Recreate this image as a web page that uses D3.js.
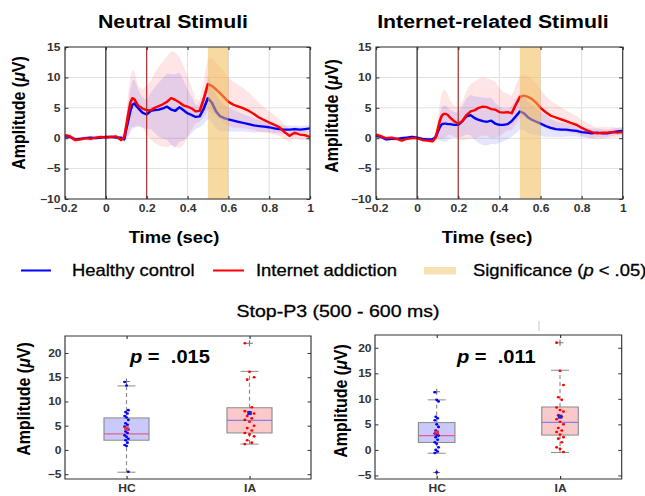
<!DOCTYPE html>
<html>
<head>
<meta charset="utf-8">
<script src="https://cdn.jsdelivr.net/npm/d3@7"></script>
<style>
  body { margin: 0; background: #fff; }
  svg { display: block; font-family: "Liberation Sans", Arial, sans-serif; }
</style>
</head>
<body>
<script>
'use strict';

// ERP time base (sec)
const T = [-0.2, -0.175, -0.15, -0.125, -0.1, -0.075, -0.05, -0.025, 0, 0.025, 0.05, 0.075,
  0.09, 0.1, 0.11, 0.12, 0.13, 0.14, 0.15, 0.16, 0.18, 0.2, 0.22, 0.24, 0.26, 0.28, 0.3, 0.32,
  0.34, 0.36, 0.38, 0.4, 0.42, 0.44, 0.46, 0.48, 0.5, 0.52, 0.54, 0.56, 0.58, 0.6, 0.625, 0.65,
  0.675, 0.7, 0.725, 0.75, 0.775, 0.8, 0.825, 0.85, 0.875, 0.9, 0.925, 0.95, 0.975, 1.0];

// neutral stimuli: grand means and band half-widths (uV)
const neuHC = [0.3, 0.2, -0.2, -0.1, 0.0, 0.1, 0.0, 0.1, 0.2, 0.2, 0.1, 0.1,
  -0.2, 1.5, 3.0, 4.5, 5.5, 5.7, 5.3, 4.9, 4.2, 3.9, 4.5, 4.6, 4.7, 4.9, 5.2, 4.7,
  4.5, 5.1, 4.6, 4.1, 3.8, 3.5, 3.6, 4.9, 6.6, 5.8, 4.4, 3.6, 3.3, 3.1, 2.9, 2.7,
  2.5, 2.3, 2.1, 2.0, 1.9, 1.8, 1.6, 1.5, 1.4, 1.4, 1.5, 1.4, 1.5, 1.6];
const neuIA = [0.5, 0.3, -0.3, -0.2, 0.0, -0.1, 0.1, 0.2, 0.1, 0.2, 0.3, -0.3,
  0.2, 2.0, 4.0, 5.8, 6.6, 6.4, 5.8, 5.3, 4.9, 4.6, 4.6, 5.0, 5.3, 5.6, 6.0, 6.6,
  6.3, 5.9, 5.4, 5.2, 4.9, 4.4, 4.5, 6.5, 8.9, 8.6, 8.0, 7.4, 6.7, 6.0, 5.5, 5.2,
  4.9, 4.5, 4.0, 3.4, 3.0, 2.6, 2.2, 1.8, 1.0, 0.4, 0.9, 0.6, 0.5, 0.2];
const neuHCsd = [0.4, 0.4, 0.3, 0.3, 0.3, 0.3, 0.3, 0.3, 0.3, 0.3, 0.3, 0.3,
  0.5, 1.5, 2.8, 3.6, 4.0, 4.0, 3.5, 3.0, 2.5, 2.4, 3.0, 3.8, 4.5, 5.0, 5.5, 5.8,
  6.0, 5.7, 5.0, 4.0, 3.0, 2.0, 1.8, 2.5, 3.5, 3.2, 2.8, 2.5, 2.2, 2.0, 1.8, 1.6,
  1.4, 1.3, 1.2, 1.0, 0.9, 0.8, 0.8, 0.7, 0.7, 0.7, 0.6, 0.6, 0.6, 0.6];
const neuIAsd = [0.4, 0.4, 0.4, 0.3, 0.3, 0.3, 0.3, 0.3, 0.3, 0.3, 0.3, 0.4,
  0.6, 2.0, 3.5, 4.3, 4.7, 4.5, 3.8, 3.2, 3.2, 4.0, 4.8, 5.8, 6.5, 7.0, 7.5, 7.7,
  7.8, 7.5, 6.5, 5.0, 3.5, 2.0, 1.8, 3.0, 4.3, 4.5, 4.4, 4.3, 4.2, 4.0, 3.8, 3.5,
  3.3, 3.0, 2.7, 2.4, 2.1, 1.8, 1.6, 1.4, 1.2, 1.0, 1.0, 0.9, 0.8, 0.7];

// internet-related stimuli
const intHC = [0.4, 0.2, -0.2, -0.1, -0.1, 0.0, 0.1, 0.2, 0.1, -0.1, -0.2, -0.2,
  0.2, 1.0, 1.8, 2.3, 2.4, 2.4, 2.3, 2.3, 2.2, 2.2, 2.8, 3.6, 3.8, 3.3, 3.0, 2.8,
  2.7, 2.9, 2.4, 2.2, 2.2, 2.3, 2.8, 3.6, 4.4, 4.1, 3.4, 3.0, 2.7, 2.4, 2.0, 1.7,
  1.5, 1.4, 1.4, 1.3, 1.2, 1.0, 0.9, 0.8, 0.9, 0.8, 0.8, 1.0, 1.1, 1.2];
const intIA = [0.6, 0.3, 0.0, 0.1, -0.1, -0.4, -0.1, 0.0, 0.0, -0.3, -0.4, -0.5,
  0.1, 1.4, 2.8, 3.7, 4.0, 4.0, 3.8, 3.4, 2.8, 2.4, 2.8, 3.8, 4.4, 4.6, 5.0, 5.2,
  5.1, 4.8, 4.7, 4.3, 4.2, 4.3, 4.1, 5.5, 6.8, 7.0, 6.8, 6.4, 5.8, 5.0, 4.3, 3.7,
  3.4, 3.1, 2.8, 2.5, 2.2, 1.7, 1.3, 1.0, 0.8, 0.9, 0.9, 1.0, 0.9, 1.0];
const intHCsd = [0.4, 0.3, 0.3, 0.3, 0.3, 0.3, 0.3, 0.3, 0.3, 0.3, 0.3, 0.3,
  0.5, 1.2, 2.2, 2.8, 3.0, 3.0, 2.7, 2.4, 2.1, 2.0, 2.5, 3.0, 3.3, 3.6, 3.8, 3.9,
  3.9, 3.8, 3.4, 3.0, 2.7, 2.5, 2.5, 2.8, 3.0, 2.8, 2.6, 2.4, 2.2, 2.0, 1.8, 1.5,
  1.3, 1.2, 1.1, 1.0, 0.9, 0.9, 0.8, 0.8, 0.7, 0.7, 0.6, 0.6, 0.6, 0.6];
const intIAsd = [0.4, 0.4, 0.3, 0.3, 0.3, 0.3, 0.3, 0.3, 0.3, 0.3, 0.3, 0.4,
  0.6, 1.5, 3.0, 3.8, 4.0, 3.8, 3.3, 2.8, 2.6, 2.6, 3.2, 4.0, 4.5, 4.7, 4.8, 4.8,
  4.7, 4.8, 4.6, 4.0, 3.4, 3.0, 2.8, 3.2, 3.5, 3.5, 3.4, 3.3, 3.2, 3.0, 2.7, 2.4,
  2.2, 2.0, 1.8, 1.6, 1.5, 1.3, 1.2, 1.1, 1.0, 1.0, 0.9, 0.9, 0.8, 0.8];

const erpXTicks = [-0.2, 0, 0.2, 0.4, 0.6, 0.8, 1];
const erpYTicks = [-10, -5, 0, 5, 10, 15];
const sigWindow = [0.5, 0.6];

// Stop-P3 box plots
const groups = ['HC', 'IA'];
const boxYTicks = [-5, 0, 5, 10, 15, 20];

const neuQ1 = [2.0, 3.5];
const neuMed = [3.3, 6.1];
const neuQ3 = [6.6, 8.7];
const neuLo = [-4.6, 1.2];
const neuHi = [13.2, 16.2];
const neuMean = [4.4, 7.6];
const neuOut = [[14.1], [22.0]];
const neuPtsHC = [14.0, 13.3, 8.2, 7.8, 7.5, 7.0, 6.7, 6.2, 5.5, 5.2, 4.8, 4.5, 4.2, 3.8,
  3.5, 3.0, 2.7, 2.3, 2.0, 1.5, 1.0, 0.8, -4.5];
const neuPtsIA = [22.0, 16.1, 15.0, 14.5, 8.8, 8.0, 7.8, 7.5, 7.0, 6.5, 6.2, 5.8, 5.0, 4.5,
  4.0, 3.5, 3.2, 2.8, 2.0, 1.5, 1.2];

const intQ1 = [1.45, 2.9];
const intMed = [2.8, 5.4];
const intQ3 = [5.35, 8.4];
const intLo = [-0.65, -0.5];
const intHi = [9.8, 15.6];
const intMean = [3.4, 6.5];
const intOut = [[11.4, -4.45], [21.0]];
const intPtsHC = [11.3, 9.8, 9.5, 6.5, 6.2, 5.8, 5.0, 4.5, 3.8, 3.5, 3.2, 3.0, 2.8, 2.5,
  2.0, 1.5, 1.2, 0.5, 0.0, -0.3, -0.6, -4.4];
const intPtsIA = [21.0, 15.5, 12.7, 10.3, 9.8, 8.3, 7.8, 7.5, 6.8, 6.5, 6.0, 5.5, 5.0, 4.3,
  3.8, 3.5, 3.0, 2.5, 2.2, 1.5, 0.5, 0.2, -0.4];

const W = 645;
const H = 496;
// the exported figure is stretched horizontally; draw in unstretched units
const sx = 1.15;

const svg = d3.select('body').append('svg').attr('width', W).attr('height', H);
const root = svg.append('g').attr('transform', 'scale(' + sx + ',1)');

function styleAxis(sel) {
  sel.select('.domain').remove();
  sel.selectAll('.tick line').attr('stroke', '#333');
  sel.selectAll('.tick text')
    .attr('font-family', '"Liberation Sans", Arial, sans-serif')
    .attr('font-size', 10.5)
    .attr('font-weight', 'bold')
    .attr('fill', '#333');
}

function ampLabel(g, bx, cy) {
  const t = g.append('text')
    .attr('transform', 'translate(' + [bx, cy] + ') rotate(-90)')
    .attr('text-anchor', 'middle')
    .attr('font-size', 16)
    .attr('font-weight', 'bold');
  t.append('tspan').text('Amplitude (');
  t.append('tspan').attr('font-style', 'italic').text('\u03bc');
  t.append('tspan').text('V)');
}

function drawErp(c) {
  const x = d3.scaleLinear().domain([-0.2, 1]).range([c.x0 / sx, c.x1 / sx]);
  const y = d3.scaleLinear().domain([-10, 15]).range([199, 47]);
  const g = root.append('g');
  const [xa, xb] = x.range();

  g.append('g').selectAll('line').data(erpXTicks).join('line')
    .attr('x1', d => x(d)).attr('x2', d => x(d))
    .attr('y1', y(-10)).attr('y2', y(15))
    .attr('stroke', '#e2e2e2');
  g.append('g').selectAll('line').data(erpYTicks).join('line')
    .attr('x1', xa).attr('x2', xb)
    .attr('y1', d => y(d)).attr('y2', d => y(d))
    .attr('stroke', '#e2e2e2');

  const rows = (m, s) => T.map((t, i) => ({t, m: m[i], s: s[i]}));
  const area = d3.area().x(d => x(d.t)).y0(d => y(d.m - d.s)).y1(d => y(d.m + d.s));
  const line = d3.line().x(d => x(d.t)).y(d => y(d.m));
  const hc = rows(c.hc, c.hcSd);
  const ia = rows(c.ia, c.iaSd);

  g.append('path').datum(ia).attr('d', area).attr('fill', '#ff0000').attr('fill-opacity', 0.1);
  g.append('path').datum(hc).attr('d', area).attr('fill', '#0000ff').attr('fill-opacity', 0.1);
  g.append('path').datum(hc).attr('d', line)
    .attr('fill', 'none').attr('stroke', '#0000ff').attr('stroke-width', 2.3).attr('stroke-linejoin', 'round');
  g.append('path').datum(ia).attr('d', line)
    .attr('fill', 'none').attr('stroke', '#ff0000').attr('stroke-width', 2.3).attr('stroke-linejoin', 'round');

  g.append('rect')
    .attr('x', x(sigWindow[0])).attr('width', x(sigWindow[1]) - x(sigWindow[0]))
    .attr('y', y(15)).attr('height', y(-10) - y(15))
    .attr('fill', '#eebb55').attr('fill-opacity', 0.55);

  g.append('line').attr('x1', x(0)).attr('x2', x(0)).attr('y1', y(-10)).attr('y2', y(15))
    .attr('stroke', '#222');
  g.append('line').attr('x1', x(0.2)).attr('x2', x(0.2)).attr('y1', y(-10)).attr('y2', y(15))
    .attr('stroke', '#a52a2a');

  g.append('g').attr('transform', 'translate(0,199)')
    .call(d3.axisBottom(x).tickValues(erpXTicks).tickFormat(d3.format('')).tickSize(-3).tickSizeOuter(0).tickPadding(6))
    .call(styleAxis);
  g.append('g').attr('transform', 'translate(0,47)')
    .call(d3.axisTop(x).tickValues(erpXTicks).tickFormat('').tickSize(-3).tickSizeOuter(0))
    .call(styleAxis);
  g.append('g').attr('transform', 'translate(' + xa + ',0)')
    .call(d3.axisLeft(y).tickValues(erpYTicks).tickSize(-3).tickSizeOuter(0).tickPadding(4))
    .call(styleAxis);
  g.append('g').attr('transform', 'translate(' + xb + ',0)')
    .call(d3.axisRight(y).tickValues(erpYTicks).tickFormat('').tickSize(-3).tickSizeOuter(0))
    .call(styleAxis);

  g.append('rect').attr('x', xa).attr('y', 47).attr('width', xb - xa).attr('height', 152)
    .attr('fill', 'none').attr('stroke', '#333');

  g.append('text').attr('x', c.titleX / sx).attr('y', 28)
    .attr('text-anchor', 'middle').attr('font-size', 18.5).attr('font-weight', 'bold')
    .text(c.title);
  g.append('text').attr('x', c.xlabX / sx).attr('y', 243)
    .attr('text-anchor', 'middle').attr('font-size', 16).attr('font-weight', 'bold')
    .text('Time (sec)');
  ampLabel(g, c.ylabX / sx, c.ylabY);
}

function drawBox(c) {
  const x = d3.scaleLinear().domain([0.5, 2.5]).range([c.x0 / sx, c.x1 / sx]);
  const y = d3.scaleLinear().domain(c.yDomain).range([479, c.yTop]);
  const g = root.append('g');
  const [xa, xb] = x.range();
  const capHalf = 0.073;
  const fills = ['#c9c9fb', '#fbc9c9'];
  const medCol = ['#e0608a', '#8a7ee8'];
  const dotCol = ['#0000ff', '#ff0000'];
  const meanCol = ['#e0304a', '#2020e0'];

  groups.forEach((name, i) => {
    const p = i + 1;
    const bx0 = x(p - c.half);
    const bx1 = x(p + c.half);
    g.append('line').attr('x1', x(p)).attr('x2', x(p)).attr('y1', y(c.q3[i])).attr('y2', y(c.hi[i]))
      .attr('stroke', '#8a8a8a').attr('stroke-dasharray', '4,3');
    g.append('line').attr('x1', x(p)).attr('x2', x(p)).attr('y1', y(c.q1[i])).attr('y2', y(c.lo[i]))
      .attr('stroke', '#8a8a8a').attr('stroke-dasharray', '4,3');
    [c.hi[i], c.lo[i]].forEach(v => {
      g.append('line').attr('x1', x(p - capHalf)).attr('x2', x(p + capHalf))
        .attr('y1', y(v)).attr('y2', y(v)).attr('stroke', '#8a8a8a');
    });
    g.append('rect').attr('x', bx0).attr('width', bx1 - bx0)
      .attr('y', y(c.q3[i])).attr('height', y(c.q1[i]) - y(c.q3[i]))
      .attr('fill', fills[i]).attr('stroke', '#8c8c8c');
    g.append('line').attr('x1', bx0).attr('x2', bx1).attr('y1', y(c.med[i])).attr('y2', y(c.med[i]))
      .attr('stroke', medCol[i]).attr('stroke-width', 1.2);

    c.out[i].forEach(v => {
      g.append('path')
        .attr('d', 'M' + (x(p) - 3) + ',' + y(v) + 'h6M' + x(p) + ',' + (y(v) - 3) + 'v6')
        .attr('stroke', '#777');
    });

    const spread = c.jitter[i];
    g.append('g').selectAll('circle').data(c.pts[i]).join('circle')
      .attr('cx', (d, k) => x(p) + ((k * 7) % 5 - 2) * spread / 2)
      .attr('cy', d => y(d))
      .attr('r', 1.3)
      .attr('fill', dotCol[i]);

    g.append('rect').attr('x', x(p) - 2).attr('y', y(c.mean[i]) - 2)
      .attr('width', 4).attr('height', 4).attr('fill', meanCol[i]);
  });

  g.append('g').attr('transform', 'translate(0,479)')
    .call(d3.axisBottom(x).tickValues([1, 2]).tickFormat((d, i) => groups[i]).tickSize(-3).tickSizeOuter(0).tickPadding(6))
    .call(styleAxis);
  g.append('g').attr('transform', 'translate(0,' + c.yTop + ')')
    .call(d3.axisTop(x).tickValues([1, 2]).tickFormat('').tickSize(-3).tickSizeOuter(0))
    .call(styleAxis);
  g.append('g').attr('transform', 'translate(' + xa + ',0)')
    .call(d3.axisLeft(y).tickValues(boxYTicks).tickSize(-3).tickSizeOuter(0).tickPadding(3))
    .call(styleAxis);
  g.append('g').attr('transform', 'translate(' + xb + ',0)')
    .call(d3.axisRight(y).tickValues(boxYTicks).tickFormat('').tickSize(-3).tickSizeOuter(0))
    .call(styleAxis);
  g.append('rect').attr('x', xa).attr('y', c.yTop).attr('width', xb - xa).attr('height', 479 - c.yTop)
    .attr('fill', 'none').attr('stroke', '#333');

  const pt = g.append('text').attr('x', c.pX / sx).attr('y', 363)
    .attr('font-size', 17.5).attr('font-weight', 'bold').attr('xml:space', 'preserve')
    .style('white-space', 'pre');
  pt.append('tspan').attr('font-style', 'italic').text('p');
  pt.append('tspan').text(' =  ' + c.p);

  ampLabel(g, c.ylabX / sx, c.ylabY);
}

drawErp({x0: 65, x1: 310, hc: neuHC, ia: neuIA, hcSd: neuHCsd, iaSd: neuIAsd,
  title: 'Neutral Stimuli', titleX: 173, xlabX: 174, ylabX: 25, ylabY: 113});
drawErp({x0: 376, x1: 622.7, hc: intHC, ia: intIA, hcSd: intHCsd, iaSd: intIAsd,
  title: 'Internet-related Stimuli', titleX: 493, xlabX: 487, ylabX: 338, ylabY: 116});

// legend
const legend = root.append('g').attr('font-size', 16)
  .attr('stroke', '#000').attr('stroke-width', 0.3);
legend.append('line').attr('x1', 21 / sx).attr('x2', 51 / sx).attr('y1', 270.5).attr('y2', 270.5)
  .attr('stroke', '#0000ff').attr('stroke-width', 2);
legend.append('text').attr('x', 72 / sx).attr('y', 276.5).text('Healthy control');
legend.append('line').attr('x1', 213 / sx).attr('x2', 244 / sx).attr('y1', 270.5).attr('y2', 270.5)
  .attr('stroke', '#ff0000').attr('stroke-width', 2);
legend.append('text').attr('x', 256 / sx).attr('y', 276.5).text('Internet addiction');
legend.append('rect').attr('x', 424 / sx).attr('y', 267).attr('width', 32 / sx).attr('height', 7.5)
  .attr('stroke', 'none').attr('fill', '#eebb55').attr('fill-opacity', 0.45);
const sigText = legend.append('text').attr('x', 473 / sx).attr('y', 276.5);
sigText.append('tspan').text('Significance (');
sigText.append('tspan').attr('font-style', 'italic').text('p');
sigText.append('tspan').text(' < .05)');

root.append('text').attr('x', 338 / sx).attr('y', 317)
  .attr('text-anchor', 'middle').attr('font-size', 17)
  .attr('stroke', '#000').attr('stroke-width', 0.3)
  .text('Stop-P3 (500 - 600 ms)');

// thin stray divider visible above the right box plot
root.append('line').attr('x1', 539 / sx).attr('x2', 539 / sx).attr('y1', 321).attr('y2', 331)
  .attr('stroke', '#cfcfcf');

drawBox({x0: 65, x1: 311, yDomain: [-6, 23.5], yTop: 336, half: 0.183,
  q1: neuQ1, med: neuMed, q3: neuQ3, lo: neuLo, hi: neuHi, mean: neuMean, out: neuOut,
  pts: [neuPtsHC, neuPtsIA], jitter: [1.6, 4], p: '.015', pX: 130, ylabX: 30, ylabY: 399});
drawBox({x0: 375, x1: 621.7, yDomain: [-5.7, 22.5], yTop: 335, half: 0.148,
  q1: intQ1, med: intMed, q3: intQ3, lo: intLo, hi: intHi, mean: intMean, out: intOut,
  pts: [intPtsHC, intPtsIA], jitter: [1.6, 3], p: '.011', pX: 457, ylabX: 346.7, ylabY: 401});
</script>
</body>
</html>
